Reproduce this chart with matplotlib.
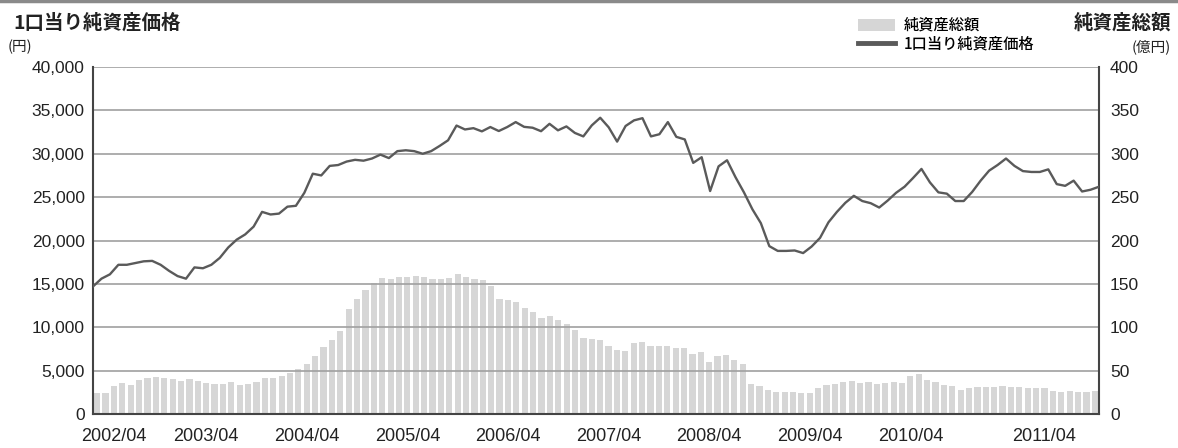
import numpy as np
import matplotlib
matplotlib.use("Agg")
import matplotlib.pyplot as plt
from matplotlib.lines import Line2D
from matplotlib.patches import Patch

plt.rcParams['font.family'] = ['Liberation Sans', 'Noto Sans CJK JP']

# monthly data 2002/04 - 2012/03
net_assets = [  # 純資産総額 (億円)
    24.6, 24.6, 32.7, 35.4, 33.5, 39, 41, 42.3, 41.5, 40, 38.5, 40,
    38, 35.4, 34.6, 34.6, 37.3, 33.5, 34.6, 37.3, 41, 41, 43.8, 47,
    51.5, 57.7, 67, 77, 85.4, 95.8, 121, 132, 143, 151.5, 156.5, 156,
    157.5, 158.5, 159.5, 158, 155.5, 156, 157, 161, 158.5, 156, 155, 148,
    132, 131, 129, 122.5, 117.5, 111, 113, 108.5, 104, 96.5, 88, 86.5,
    85, 78.8, 73.5, 73, 81.5, 83, 78.8, 78, 78.6, 76.5, 76, 69.5,
    71, 60.5, 66.8, 67.5, 62.5, 58, 35, 32.2, 27.3, 25.8, 25.8, 25.8,
    24.5, 24.4, 30.5, 33, 34.2, 37.3, 37.5, 35.7, 37, 35, 35.7, 37,
    35.4, 44.2, 46, 39.5, 37, 33, 31.8, 28, 30, 30.8, 31.5, 31.5,
    32, 30.8, 30.8, 30, 30, 29.6, 27, 25, 27, 25.8, 25, 27,
]
nav_per_unit = [  # 1口当り純資産価格 (円)
    14700, 15600, 16100, 17200, 17200, 17400, 17600, 17650, 17200, 16500, 15900, 15600,
    16900, 16800, 17200, 18000, 19200, 20100, 20700, 21600, 23300, 23000, 23100, 23900,
    24000, 25500, 27700, 27500, 28600, 28700, 29100, 29300, 29200, 29450, 29900, 29500,
    30300, 30400, 30300, 30000, 30300, 30900, 31550, 33250, 32800, 32950, 32580, 33080,
    32620, 33080, 33650, 33100, 33000, 32600, 33450, 32700, 33150, 32400, 32000, 33270,
    34150, 33050, 31400, 33200, 33850, 34100, 32000, 32250, 33650, 31950, 31650, 28950,
    29600, 25700, 28550, 29250, 27300, 25550, 23600, 22000, 19350, 18800, 18800, 18850,
    18550, 19300, 20300, 22100, 23300, 24350, 25150, 24550, 24300, 23800, 24600, 25500,
    26200, 27200, 28250, 26700, 25550, 25400, 24550, 24550, 25600, 26900, 28050, 28700,
    29450, 28600, 28000, 27900, 27900, 28200, 26500, 26300, 26900, 25650, 25850, 26200,
]
tick_labels = ["2002/04", "2003/04", "2004/04", "2005/04", "2006/04",
               "2007/04", "2008/04", "2009/04", "2010/04", "2011/04"]
tick_pos = [2, 13, 25, 37, 49, 61, 73, 85, 97, 113]

n = len(net_assets)
x = np.arange(n)

fig = plt.figure(figsize=(11.78, 4.48), dpi=100)
ax = fig.add_axes([93 / 1178, 1 - 414 / 448, (1099 - 93) / 1178, (414 - 67) / 448])
ax2 = ax.twinx()

bar_c = '#d6d6d6'
line_c = '#5a5a5a'
grid_c = '#a0a0a0'

# bars on right scale
ax.bar(x, net_assets, width=0.74, color=bar_c, zorder=2)
ax.set_ylim(0, 400)
ax.set_xlim(-0.5, n - 0.5)
for v in np.arange(50, 401, 50):
    ax.axhline(v, color=grid_c, lw=1.2, zorder=3)
ax.yaxis.tick_right()
ax.set_yticks(np.arange(0, 401, 50))
ax.set_yticklabels([str(v) for v in range(0, 401, 50)])

# line on left scale, stretched edge to edge
lx = np.linspace(-0.5, n - 0.5, n)
ax2.plot(lx, nav_per_unit, color=line_c, lw=1.7, zorder=4)
ax2.set_ylim(0, 40000)
ax2.yaxis.tick_left()
ax2.set_yticks(np.arange(0, 40001, 5000))
ax2.set_yticklabels([f"{v:,}" for v in range(0, 40001, 5000)])

ax.set_xticks(tick_pos)
ax.set_xticklabels(tick_labels)

for a in (ax, ax2):
    a.tick_params(length=0, labelsize=12.5, colors='#222222')
    for s in a.spines.values():
        s.set_visible(False)
ax.tick_params(axis='x', labelsize=13, pad=10)
ax.tick_params(axis='y', pad=8)
ax2.tick_params(axis='y', pad=6)
ax2.spines['left'].set_visible(True)
ax2.spines['right'].set_visible(True)
ax2.spines['bottom'].set_visible(True)
for s in ('left', 'right', 'bottom'):
    ax2.spines[s].set_color('#444444')
    ax2.spines[s].set_linewidth(1.5)

jp = ['Noto Sans CJK JP']
fig.text(13 / 1178, 1 - 23 / 448, "1口当り純資産価格", fontsize=14, family=jp,
         fontweight='bold', va='center', ha='left', color='#222222')
fig.text(8 / 1178, 1 - 47 / 448, "(円)", fontsize=10.5, family=jp,
         va='center', ha='left', color='#222222')
fig.text(1171 / 1178, 1 - 23 / 448, "純資産総額", fontsize=14, family=jp,
         fontweight='bold', va='center', ha='right', color='#222222')
fig.text(1171 / 1178, 1 - 47 / 448, "(億円)", fontsize=10.5, family=jp,
         va='center', ha='right', color='#222222')

handles = [Patch(facecolor=bar_c, edgecolor='none'),
           Line2D([0], [0], color=line_c, lw=3.5)]
fig.legend(handles, ["純資産総額", "1口当り純資産価格"], loc='upper left',
           bbox_to_anchor=(858 / 1178, 1 - 17 / 448), frameon=False,
           prop={'family': jp, 'size': 11, 'weight': 'medium'}, handlelength=2.4,
           handleheight=0.8, handletextpad=0.6, labelspacing=0.1, borderpad=0,
           borderaxespad=0)

fig.add_artist(Line2D([0, 1], [1 - 1.5 / 448, 1 - 1.5 / 448], color='#8a8a8a', lw=2.5,
                      transform=fig.transFigure))

fig.savefig("out.png", dpi=100)
